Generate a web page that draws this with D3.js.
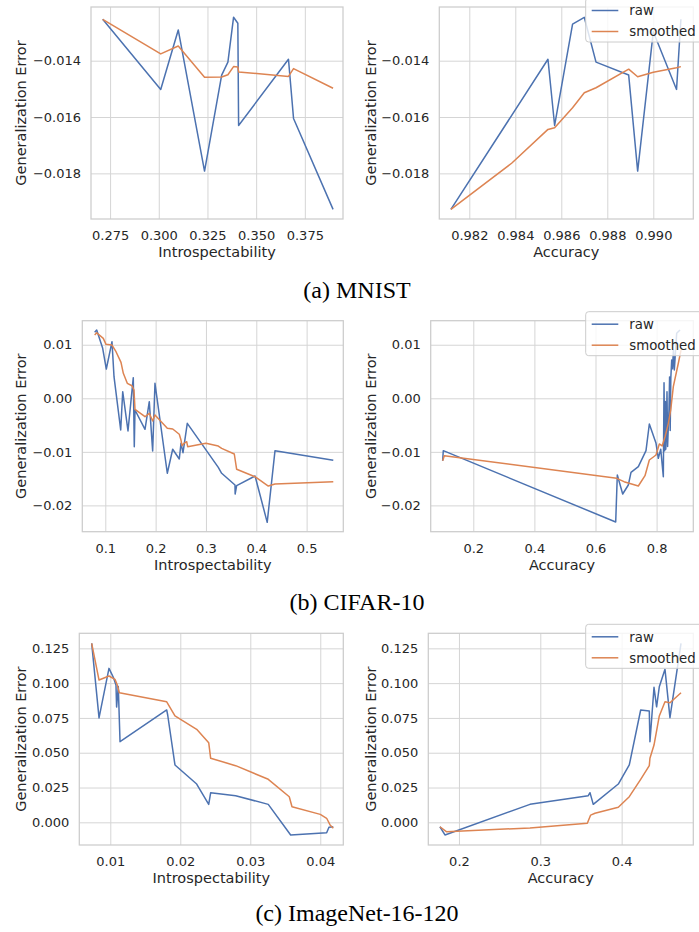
<!DOCTYPE html>
<html>
<head>
<meta charset="utf-8">
<script src="https://cdn.jsdelivr.net/npm/d3@7"></script>
<style>
  body { margin: 0; background: #fff; }
  svg { display: block; }
</style>
</head>
<body>
<svg id="chart" width="699" height="932"></svg>
<script>
// ---- MNIST: generalization error vs introspectability / accuracy ----
const mnistIntroRaw = [[0.2712,-0.01253],[0.3010,-0.01502],[0.3100,-0.01291],[0.3235,-0.01792],[0.3323,-0.01451],[0.3355,-0.01405],[0.3384,-0.01246],[0.3406,-0.01267],[0.3410,-0.01630],[0.3666,-0.01395],[0.3692,-0.01605],[0.3895,-0.01928]];
const mnistIntroSmooth = [[0.2712,-0.01253],[0.3010,-0.01376],[0.3100,-0.01348],[0.3235,-0.01459],[0.3323,-0.01458],[0.3355,-0.01450],[0.3384,-0.01421],[0.3406,-0.01422],[0.3410,-0.01440],[0.3666,-0.01456],[0.3692,-0.01428],[0.3895,-0.01498]];
const mnistAccRaw = [[0.9812,-0.01928],[0.98542,-0.01395],[0.98571,-0.01630],[0.98649,-0.01270],[0.98700,-0.01246],[0.98751,-0.01405],[0.98893,-0.01451],[0.98932,-0.01792],[0.99000,-0.01297],[0.99101,-0.01502],[0.99120,-0.01253]];
const mnistAccSmooth = [[0.9812,-0.01928],[0.98384,-0.01764],[0.98542,-0.01644],[0.98571,-0.01638],[0.98649,-0.01567],[0.98700,-0.01514],[0.98751,-0.01496],[0.98893,-0.01430],[0.98932,-0.01457],[0.99000,-0.01441],[0.99101,-0.01425],[0.99120,-0.01421]];

// ---- CIFAR-10 ----
const cifarIntroRaw = [[0.0789,0.01232],[0.0829,0.01275],[0.0948,0.00934],[0.1020,0.00547],[0.1133,0.01057],[0.1173,0.00403],[0.1306,-0.00592],[0.1346,0.00123],[0.1451,-0.00610],[0.1556,0.00385],[0.1576,-0.00904],[0.1590,-0.00218],[0.1789,-0.00579],[0.1874,-0.00063],[0.1941,-0.00984],[0.1987,0.00280],[0.2232,-0.01400],[0.2339,-0.00952],[0.2470,-0.01133],[0.2504,-0.00840],[0.2544,-0.01016],[0.2629,-0.00467],[0.3245,-0.01289],[0.3312,-0.01400],[0.3577,-0.01619],[0.3580,-0.01787],[0.3610,-0.01632],[0.3976,-0.01451],[0.4217,-0.02316],[0.4372,-0.00978],[0.5530,-0.01158]];
const cifarIntroSmooth = [[0.0789,0.01182],[0.0829,0.01225],[0.0960,0.01120],[0.1014,0.01008],[0.1133,0.00995],[0.1213,0.00870],[0.1312,0.00672],[0.1358,0.00467],[0.1437,0.00280],[0.1530,0.00235],[0.1570,0.00155],[0.1590,-0.00205],[0.1789,-0.00344],[0.1874,-0.00280],[0.1941,-0.00424],[0.1987,-0.00312],[0.2232,-0.00560],[0.2340,-0.00573],[0.2470,-0.00672],[0.2504,-0.00779],[0.2524,-0.00885],[0.2564,-0.00840],[0.2617,-0.00810],[0.2637,-0.00904],[0.3000,-0.00840],[0.3245,-0.00891],[0.3312,-0.00934],[0.3563,-0.01040],[0.3610,-0.01326],[0.3974,-0.01464],[0.4239,-0.01638],[0.4372,-0.01600],[0.5530,-0.01557]];
const cifarAccRaw = [[0.0998,-0.01165],[0.1018,-0.00978],[0.6661,-0.02310],[0.6714,-0.01432],[0.6890,-0.01787],[0.7074,-0.01619],[0.7162,-0.01382],[0.7402,-0.01277],[0.7653,-0.00978],[0.7762,-0.00480],[0.7981,-0.00840],[0.8056,-0.01120],[0.8135,-0.00952],[0.8220,-0.01464],[0.8243,0.00291],[0.8265,-0.00980],[0.8285,-0.00060],[0.8300,-0.00950],[0.8320,-0.00610],[0.8340,0.00120],[0.8360,-0.00900],[0.8380,-0.00580],[0.8405,-0.00220],[0.8425,0.00400],[0.8445,-0.00600],[0.8465,0.00380],[0.8494,0.00715],[0.8520,0.00550],[0.8550,0.00900],[0.8580,0.00530],[0.8657,0.01213],[0.8766,0.01275]];
const cifarAccSmooth = [[0.0998,-0.01165],[0.1051,-0.01071],[0.6694,-0.01494],[0.6933,-0.01557],[0.7402,-0.01638],[0.7620,-0.01445],[0.7762,-0.01152],[0.7981,-0.01059],[0.8089,-0.00853],[0.8180,-0.00890],[0.8276,-0.00717],[0.8385,-0.00467],[0.8462,-0.00218],[0.8547,0.00217],[0.8711,0.00654],[0.8799,0.00900]];

// ---- ImageNet-16-120 ----
const imnetIntroRaw = [[0.00734,0.1286],[0.00839,0.0750],[0.00981,0.1106],[0.01043,0.1042],[0.01081,0.0986],[0.01090,0.0828],[0.01114,0.0975],[0.01139,0.0579],[0.01806,0.0807],[0.01820,0.0771],[0.01924,0.0412],[0.02234,0.0275],[0.02406,0.0129],[0.02434,0.0213],[0.02791,0.0191],[0.03257,0.0129],[0.03577,-0.0091],[0.04091,-0.0075],[0.04124,-0.0036],[0.04186,-0.0032]];
const imnetIntroSmooth = [[0.00734,0.1286],[0.00839,0.1022],[0.00981,0.1051],[0.01067,0.1027],[0.01100,0.0986],[0.01129,0.0931],[0.01806,0.0866],[0.01924,0.0764],[0.02234,0.0668],[0.02406,0.0572],[0.02434,0.0460],[0.02791,0.0407],[0.03257,0.0309],[0.03557,0.0184],[0.03596,0.0112],[0.04000,0.0057],[0.04091,0.0029],[0.04140,-0.0019],[0.04186,-0.0043]];
const imnetAccRaw = [[0.1766,-0.0032],[0.1828,-0.0091],[0.2873,0.0129],[0.3590,0.0191],[0.3611,0.0213],[0.3651,0.0129],[0.3959,0.0275],[0.4094,0.0412],[0.4234,0.0807],[0.4340,0.0800],[0.4348,0.0579],[0.4398,0.0970],[0.4430,0.0830],[0.4463,0.0974],[0.4533,0.1099],[0.4594,0.0752],[0.4730,0.1286]];
const imnetAccSmooth = [[0.1766,-0.0032],[0.1849,-0.0068],[0.2873,-0.0040],[0.3578,-0.0007],[0.3619,0.0052],[0.3672,0.0065],[0.3959,0.0108],[0.4094,0.0184],[0.4234,0.0309],[0.4340,0.0407],[0.4348,0.0460],[0.4398,0.0555],[0.4463,0.0764],[0.4533,0.0866],[0.4594,0.0859],[0.4730,0.0931]];

// ---- tick values ----
const mnistIntroTicks = [0.275, 0.300, 0.325, 0.350, 0.375];
const mnistAccTicks = [0.982, 0.984, 0.986, 0.988, 0.990];
const mnistErrTicks = [-0.014, -0.016, -0.018];
const cifarIntroTicks = [0.1, 0.2, 0.3, 0.4, 0.5];
const cifarAccTicks = [0.2, 0.4, 0.6, 0.8];
const cifarErrTicks = [0.01, 0.00, -0.01, -0.02];
const imnetIntroTicks = [0.01, 0.02, 0.03, 0.04];
const imnetAccTicks = [0.2, 0.3, 0.4];
const imnetErrTicks = [0.125, 0.100, 0.075, 0.050, 0.025, 0.000];

const captions = ["(a) MNIST", "(b) CIFAR-10", "(c) ImageNet-16-120"];
const seriesNames = ["raw", "smoothed"];

const colors = { raw: "#4c72b0", smoothed: "#dd8452" };
const gridColor = "#d5d5d5";
const spineColor = "#cccccc";
const textColor = "#262626";
const sans = "'DejaVu Sans', sans-serif";

const svg = d3.select("#chart");
svg.append("rect").attr("width", 699).attr("height", 932).attr("fill", "#fff");

const panels = [
  { box: [91, 7, 343, 219], xd: [0.2652, 0.3946], yd: [-0.01962, -0.012094], xt: mnistIntroTicks, yt: mnistErrTicks, xf: ".3f", yf: ".3f", raw: mnistIntroRaw, sm: mnistIntroSmooth, xl: "Introspectability", legend: false },
  { box: [439.3, 7, 693.3, 219], xd: [0.980696, 0.991739], yd: [-0.01962, -0.012094], xt: mnistAccTicks, yt: mnistErrTicks, xf: ".3f", yf: ".3f", raw: mnistAccRaw, sm: mnistAccSmooth, xl: "Accuracy", legend: true },
  { box: [82.3, 320.7, 343.3, 531.7], xd: [0.0543, 0.5729], yd: [-0.02491, 0.01449], xt: cifarIntroTicks, yt: cifarErrTicks, xf: ".1f", yf: ".2f", raw: cifarIntroRaw, sm: cifarIntroSmooth, xl: "Introspectability", legend: false },
  { box: [430.7, 320.7, 693.3, 531.7], xd: [0.0606, 0.9201], yd: [-0.02491, 0.01449], xt: cifarAccTicks, yt: cifarErrTicks, xf: ".1f", yf: ".2f", raw: cifarAccRaw, sm: cifarAccSmooth, xl: "Accuracy", legend: true },
  { box: [79.3, 633.3, 343.3, 845], xd: [0.00557, 0.04329], yd: [-0.0163, 0.1358], xt: imnetIntroTicks, yt: imnetErrTicks, xf: ".2f", yf: ".3f", raw: imnetIntroRaw, sm: imnetIntroSmooth, xl: "Introspectability", legend: false },
  { box: [428.3, 633.3, 693.3, 845], xd: [0.1623, 0.4881], yd: [-0.0163, 0.1358], xt: imnetAccTicks, yt: imnetErrTicks, xf: ".1f", yf: ".3f", raw: imnetAccRaw, sm: imnetAccSmooth, xl: "Accuracy", legend: true }
];

panels.forEach((p, i) => {
  const [x0, y0, x1, y1] = p.box;
  const w = x1 - x0, h = y1 - y0;
  const x = d3.scaleLinear().domain(p.xd).range([0, w]);
  const y = d3.scaleLinear().domain(p.yd).range([h, 0]);
  const g = svg.append("g").attr("transform", `translate(${x0},${y0})`);

  // grid + tick labels via d3 axes
  const xAxis = d3.axisBottom(x).tickValues(p.xt).tickFormat(d3.format(p.xf)).tickSize(-h).tickPadding(11.8);
  const yAxis = d3.axisLeft(y).tickValues(p.yt).tickFormat(d3.format(p.yf)).tickSize(-w).tickPadding(10);
  const gx = g.append("g").attr("transform", `translate(0,${h})`).call(xAxis);
  const gy = g.append("g").call(yAxis);
  [gx, gy].forEach(a => {
    a.select(".domain").remove();
    a.selectAll(".tick line").attr("stroke", gridColor).attr("stroke-width", 1);
    a.selectAll(".tick text").attr("fill", textColor).style("font-family", sans).style("font-size", "13px");
  });

  // spines
  g.append("rect").attr("width", w).attr("height", h)
    .attr("fill", "none").attr("stroke", spineColor).attr("stroke-width", 1.25);

  // series
  const line = d3.line().x(d => x(d[0])).y(d => y(d[1]));
  g.append("path").datum(p.raw).attr("d", line)
    .attr("fill", "none").attr("stroke", colors.raw).attr("stroke-width", 1.5).attr("stroke-linejoin", "round");
  g.append("path").datum(p.sm).attr("d", line)
    .attr("fill", "none").attr("stroke", colors.smoothed).attr("stroke-width", 1.5).attr("stroke-linejoin", "round");

  // axis labels
  g.append("text").attr("x", w / 2).attr("y", h + 38).attr("text-anchor", "middle")
    .attr("fill", textColor).style("font-family", sans).style("font-size", "14.5px").text(p.xl);
  const ylx = (i % 2 === 0 ? 26 : 376) - x0;
  g.append("text").attr("transform", `translate(${ylx},${h / 2}) rotate(-90)`).attr("text-anchor", "middle")
    .attr("fill", textColor).style("font-family", sans).style("font-size", "14.5px").text("Generalization Error");

  // legend
  if (p.legend) {
    const lx = 585.7 - x0;
    const lg = g.append("g");
    lg.append("rect").attr("x", lx).attr("y", -9).attr("width", 122).attr("height", 44).attr("rx", 3)
      .attr("fill", "#fff").attr("fill-opacity", 0.8).attr("stroke", spineColor).attr("stroke-width", 1);
    seriesNames.forEach((name, k) => {
      const ly = 3.5 + k * 21;
      lg.append("line").attr("x1", lx + 6).attr("x2", lx + 32.6).attr("y1", ly).attr("y2", ly)
        .attr("stroke", colors[name]).attr("stroke-width", 1.5);
      lg.append("text").attr("x", lx + 43.6).attr("y", ly + 4.8)
        .attr("fill", textColor).style("font-family", sans).style("font-size", "13.3px").text(name);
    });
  }
});

// sub-figure captions
const captionY = [298, 610, 921];
captions.forEach((c, k) => {
  svg.append("text").attr("x", 357).attr("y", captionY[k]).attr("text-anchor", "middle")
    .attr("fill", "#000").style("font-family", "'Liberation Serif', serif").style("font-size", "24px").text(c);
});
</script>
</body>
</html>
